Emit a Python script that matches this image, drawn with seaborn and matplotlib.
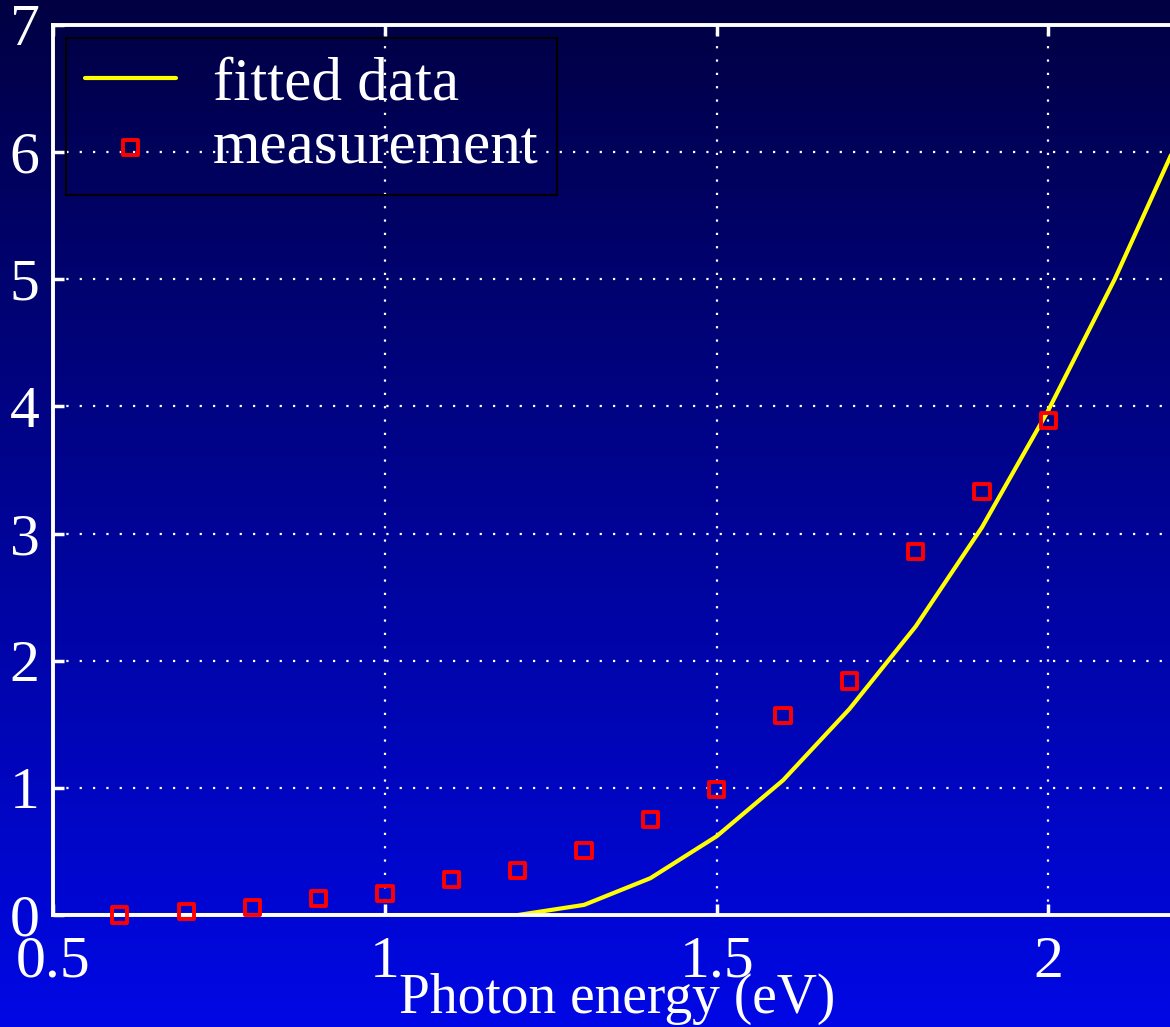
import matplotlib.pyplot as plt
import seaborn as sns
import pandas as pd
import numpy as np

# measured points
meas_x = [0.6, 0.7, 0.8, 0.9, 1.0, 1.1, 1.2, 1.3, 1.4, 1.5, 1.6, 1.7, 1.8, 1.9, 2.0]
meas_y = [0.0, 0.03, 0.06, 0.13, 0.17, 0.28, 0.35, 0.51, 0.75, 0.99, 1.57, 1.84, 2.86, 3.33, 3.89]

# fitted curve
fit_x = [0.5, 0.6, 0.7, 0.8, 0.9, 1.0, 1.1, 1.2, 1.3, 1.4, 1.5, 1.6, 1.7, 1.8, 1.9, 2.0, 2.1, 2.2]
fit_y = [0.0, 0.0, 0.0, 0.0, 0.0, 0.0, 0.0, 0.0, 0.08, 0.29, 0.62, 1.06, 1.62, 2.27, 3.05, 3.97, 5.0, 6.15]

x_ticks = [0.5, 1, 1.5, 2]
x_tick_labels = ["0.5", "1", "1.5", "2"]
y_ticks = [0, 1, 2, 3, 4, 5, 6, 7]

sns.set_style("ticks")
plt.rcParams["font.family"] = ["Liberation Serif", "DejaVu Serif"]

fig = plt.figure(figsize=(11.7, 10.27), dpi=100)

# gradient background (dark navy at top -> bright blue at bottom)
bg = fig.add_axes([0, 0, 1, 1], zorder=0)
grad = np.linspace(0, 1, 256).reshape(-1, 1)
top = np.array([0.0, 0.0, 0.26])
bottom = np.array([0.0, 0.03, 0.90])
img = top + grad[..., None] * (bottom - top)
bg.imshow(img.reshape(256, 1, 3), aspect="auto", extent=[0, 1, 0, 1], origin="upper")
bg.set_axis_off()

ax = fig.add_axes([0.0457, 0.109, 0.9637, 0.8667], zorder=1)
ax.set_facecolor("none")

fit_df = pd.DataFrame({"x": fit_x, "y": fit_y})
meas_df = pd.DataFrame({"x": meas_x, "y": meas_y})

sns.lineplot(data=fit_df, x="x", y="y", ax=ax, color="#ffff00", linewidth=3,
             label="fitted data", sort=False)
sns.scatterplot(data=meas_df, x="x", y="y", ax=ax, marker="s", s=120,
                facecolors="none", edgecolor="#ff0000", linewidth=2.8,
                label="measurement", zorder=5, clip_on=False)

ax.set_xlim(0.5, 2.2)
ax.set_ylim(0, 7)
ax.set_xticks(x_ticks)
ax.set_xticklabels(x_tick_labels)
ax.set_yticks(y_ticks)

for side in ["left", "right", "top", "bottom"]:
    ax.spines[side].set_color("white")
    ax.spines[side].set_linewidth(2.8)

ax.tick_params(axis="both", which="both", direction="in", colors="white",
               labelsize=43, length=8, width=2.5, top=True, right=True)
ax.tick_params(axis="x", pad=15)
ax.tick_params(axis="y", pad=10)
ax.grid(True, color="white", linestyle=(0, (1, 5)), linewidth=1.6)

ax.set_xlabel("Photon energy (eV)", color="white", fontsize=40, labelpad=-12)
ax.set_ylabel("")

leg = ax.legend(loc="upper left", bbox_to_anchor=(0.0115, 0.985), fontsize=44,
                frameon=True, fancybox=False, framealpha=1, handlelength=1.5,
                handletextpad=0.6, borderpad=0.3, labelspacing=0.14,
                borderaxespad=0)
leg.get_frame().set_facecolor("none")
leg.get_frame().set_edgecolor("black")
leg.get_frame().set_linewidth(1.5)
for t in leg.get_texts():
    t.set_color("white")

# title mostly clipped off the top edge, as in the original
fig.text(0.52, 1.0125, "Fitting of energy gap by polyfit", color="#ffff00",
         fontsize=43, ha="center", va="baseline")

fig.savefig("out.png", dpi=100)
plt.close(fig)
